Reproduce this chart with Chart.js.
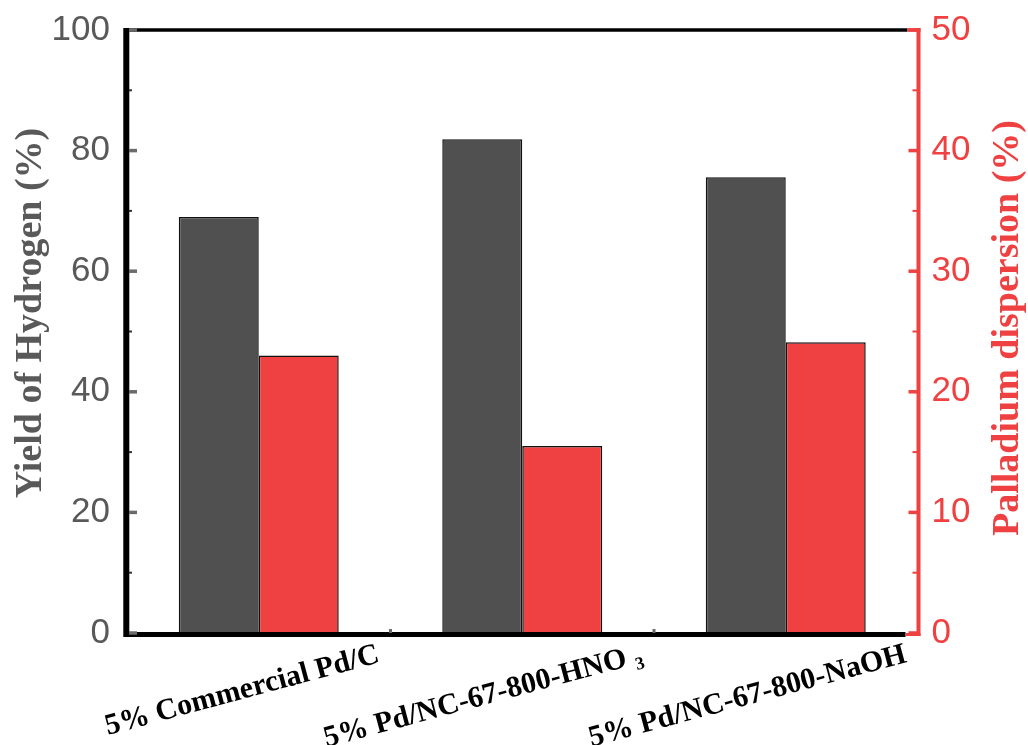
<!DOCTYPE html>
<html>
<head>
<meta charset="utf-8">
<script src="https://cdn.jsdelivr.net/npm/chart.js@4.4.1/dist/chart.umd.min.js"></script>
<style>
    html, body { margin: 0; padding: 0; background: #fff; }
    #wrap { width: 1028px; height: 745px; }
</style>
</head>
<body>
<div id="wrap"><canvas id="yieldChart" width="1028" height="745"></canvas></div>
<script>
// Data
const catalysts = ['5% Commercial Pd/C', '5% Pd/NC-67-800-HNO \u2083', '5% Pd/NC-67-800-NaOH'];
const hydrogenYield = [69.0, 81.9, 75.6];     // left axis, %
const pdDispersion = [23.0, 15.5, 24.1];      // right axis, %
const yieldTicks = [0, 20, 40, 60, 80, 100];
const dispersionTicks = [0, 10, 20, 30, 40, 50];

const RED = '#ef4141';
const GRAY = '#505050';
const LABEL_GRAY = '#595959';

// Origin-style frame: thick axes, inward ticks, minor ticks
const framePlugin = {
    id: 'frame',
    afterDatasetsDraw(chart) {
        const { ctx, chartArea: a, scales } = chart;
        const yL = scales.y, yR = scales.y1, x = scales.x;
        ctx.save();
        ctx.lineCap = 'butt';

        // top border
        ctx.strokeStyle = '#000';
        ctx.lineWidth = 3.5;
        ctx.beginPath(); ctx.moveTo(a.left - 3, a.top); ctx.lineTo(a.right - 10, a.top); ctx.stroke();
        ctx.strokeStyle = RED;
        ctx.beginPath(); ctx.moveTo(a.right - 10, a.top); ctx.lineTo(a.right + 3, a.top); ctx.stroke();

        // bottom axis
        ctx.strokeStyle = '#000';
        ctx.lineWidth = 5;
        ctx.beginPath(); ctx.moveTo(a.left - 3, a.bottom + 1.5); ctx.lineTo(a.right - 12, a.bottom + 1.5); ctx.stroke();
        ctx.strokeStyle = RED;
        ctx.lineWidth = 3;
        ctx.beginPath(); ctx.moveTo(a.right - 12, a.bottom + 1.5); ctx.lineTo(a.right + 3, a.bottom + 1.5); ctx.stroke();

        // left axis
        ctx.strokeStyle = '#000';
        ctx.lineWidth = 6;
        ctx.beginPath(); ctx.moveTo(a.left - 0.7, a.top - 2); ctx.lineTo(a.left - 0.7, a.bottom + 4); ctx.stroke();

        // right axis
        ctx.strokeStyle = RED;
        ctx.lineWidth = 4;
        ctx.beginPath(); ctx.moveTo(a.right + 1, a.top - 2); ctx.lineTo(a.right + 1, a.bottom + 3); ctx.stroke();

        // left ticks (major + minor)
        const lt = yL.ticks.map(t => t.value);
        ctx.strokeStyle = '#6a6a6a';
        ctx.lineWidth = 3.5;
        lt.forEach(v => {
            const py = yL.getPixelForValue(v);
            ctx.beginPath(); ctx.moveTo(a.left + 2, py); ctx.lineTo(a.left + 10, py); ctx.stroke();
        });
        ctx.strokeStyle = '#333';
        ctx.lineWidth = 2;
        for (let i = 0; i < lt.length - 1; i++) {
            const py = yL.getPixelForValue((lt[i] + lt[i + 1]) / 2);
            ctx.beginPath(); ctx.moveTo(a.left + 2, py); ctx.lineTo(a.left + 5, py); ctx.stroke();
        }

        // right ticks
        const rt = yR.ticks.map(t => t.value);
        ctx.strokeStyle = RED;
        ctx.lineWidth = 3.5;
        rt.forEach(v => {
            const py = yR.getPixelForValue(v);
            ctx.beginPath(); ctx.moveTo(a.right - 9, py); ctx.lineTo(a.right, py); ctx.stroke();
        });
        ctx.lineWidth = 2;
        for (let i = 0; i < rt.length - 1; i++) {
            const py = yR.getPixelForValue((rt[i] + rt[i + 1]) / 2);
            ctx.beginPath(); ctx.moveTo(a.right - 5, py); ctx.lineTo(a.right, py); ctx.stroke();
        }

        // small ticks between categories on the x axis
        ctx.strokeStyle = '#6a6a6a';
        ctx.lineWidth = 3;
        for (let i = 0; i < catalysts.length - 1; i++) {
            const px = (x.getPixelForValue(i) + x.getPixelForValue(i + 1)) / 2;
            ctx.beginPath(); ctx.moveTo(px, a.bottom - 4); ctx.lineTo(px, a.bottom); ctx.stroke();
        }
        ctx.restore();
    },
    afterDraw(chart) {
        // axis titles, both read bottom-to-top
        const { ctx } = chart;
        ctx.save();
        ctx.font = 'bold 38px "Liberation Serif", "Times New Roman", serif';
        ctx.textAlign = 'center';
        ctx.textBaseline = 'middle';

        ctx.fillStyle = LABEL_GRAY;
        ctx.translate(31, 313);
        ctx.rotate(-Math.PI / 2);
        ctx.fillText('Yield of Hydrogen (%)', 0, 0);
        ctx.restore();

        ctx.save();
        ctx.font = 'bold 38px "Liberation Serif", "Times New Roman", serif';
        ctx.textAlign = 'center';
        ctx.textBaseline = 'middle';
        ctx.fillStyle = RED;
        ctx.translate(1008, 328);
        ctx.rotate(-Math.PI / 2);
        ctx.fillText('Palladium dispersion (%)', 0, 0);
        ctx.restore();
    }
};

const ctx = document.getElementById('yieldChart').getContext('2d');

new Chart(ctx, {
    type: 'bar',
    data: {
        labels: catalysts,
        datasets: [{
            label: 'Yield of Hydrogen',
            data: hydrogenYield,
            yAxisID: 'y',
            backgroundColor: GRAY,
            borderColor: '#111',
            borderWidth: 1.5
        }, {
            label: 'Palladium dispersion',
            data: pdDispersion,
            yAxisID: 'y1',
            backgroundColor: RED,
            borderColor: '#111',
            borderWidth: 1.5
        }]
    },
    options: {
        responsive: false,
        animation: false,
        devicePixelRatio: 1,
        categoryPercentage: 0.607,
        barPercentage: 1.0,
        layout: { padding: { top: 30, left: 0, right: 0, bottom: 0 } },
        plugins: {
            legend: { display: false },
            tooltip: { enabled: false }
        },
        scales: {
            x: {
                grid: { display: false, drawTicks: false },
                border: { display: false },
                ticks: {
                    color: '#000',
                    font: { family: '"Liberation Serif", "Times New Roman", serif', size: 30, weight: 'bold' },
                    minRotation: 15,
                    maxRotation: 15,
                    autoSkip: false,
                    labelOffset: 120,
                    padding: 4
                },
                afterFit: s => { s.height = 112; s.paddingLeft = 0; s.paddingRight = 0; }
            },
            y: {
                position: 'left',
                min: 0,
                max: 100,
                grid: { display: false, drawTicks: false },
                border: { display: false },
                afterBuildTicks: s => { s.ticks = yieldTicks.map(v => ({ value: v })); },
                ticks: {
                    color: LABEL_GRAY,
                    font: { family: '"Liberation Sans", Arial, sans-serif', size: 35 },
                    padding: 17
                },
                afterFit: s => { s.width = 127; s.paddingTop = 0; s.paddingBottom = 0; }
            },
            y1: {
                position: 'right',
                min: 0,
                max: 50,
                grid: { display: false, drawTicks: false },
                border: { display: false },
                afterBuildTicks: s => { s.ticks = dispersionTicks.map(v => ({ value: v })); },
                ticks: {
                    color: RED,
                    font: { family: '"Liberation Sans", Arial, sans-serif', size: 35 },
                    padding: 14
                },
                afterFit: s => { s.width = 110.5; s.paddingTop = 0; s.paddingBottom = 0; }
            }
        }
    },
    plugins: [framePlugin]
});
</script>
</body>
</html>
